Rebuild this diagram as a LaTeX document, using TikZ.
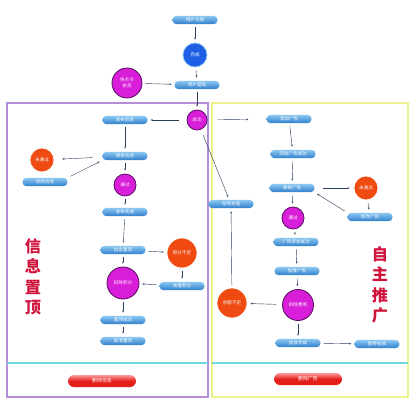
\documentclass[tikz,border=0pt]{standalone}
\usepackage{fontspec}
\newfontfamily\cjk{Noto Sans CJK SC}
\usetikzlibrary{arrows.meta}
\definecolor{boxtop}{HTML}{8CC8F2}
\definecolor{boxbot}{HTML}{2F7FCC}
\definecolor{linkcol}{HTML}{2C3E5C}
\definecolor{okfill}{HTML}{D81ED8}
\definecolor{okdraw}{HTML}{5A0F66}
\definecolor{failfill}{HTML}{EE4A12}
\definecolor{donefill}{HTML}{1E5FE6}
\definecolor{delfill}{HTML}{E41E1A}
\definecolor{framel}{HTML}{B48ED6}
\definecolor{framer}{HTML}{EEF08C}
\definecolor{cutline}{HTML}{70D8E2}
\definecolor{titlecol}{HTML}{D0143C}
\tikzset{
  infobox/.style={rounded corners=0.2cm, top color=boxtop, bottom color=boxbot, text=white,
    font=\cjk\fontsize{6.5}{7}\selectfont, minimum width=2.25cm, minimum height=0.42cm, inner sep=0pt},
  okcircle/.style={circle, draw=okdraw, line width=1.2pt, fill=okfill, text=white,
    font=\cjk\fontsize{6.5}{7}\selectfont, minimum size=1.1cm, inner sep=0pt},
  failcircle/.style={circle, draw=white, line width=1pt, fill=failfill, text=white,
    font=\cjk\fontsize{6.5}{7}\selectfont, minimum size=1.2cm, inner sep=0pt},
  donecircle/.style={circle, draw=boxtop, line width=1pt, fill=donefill, text=white,
    font=\cjk\fontsize{6.5}{7}\selectfont, minimum size=1.2cm, inner sep=0pt},
  delbutton/.style={rounded corners=0.3cm, top color=red!40, bottom color=delfill, middle color=delfill,
    text=white, font=\cjk\fontsize{7}{8}\selectfont, minimum width=3.4cm, minimum height=0.6cm, inner sep=0pt},
  bigtitle/.style={text=titlecol, font=\cjk\bfseries\fontsize{23}{29}\selectfont, align=center},
  link/.style={draw=linkcol, line width=0.6pt, -{Stealth[length=3pt,width=2.5pt]},
    shorten >=0.15cm, shorten <=0.15cm}
}
\begin{document}
\begin{tikzpicture}[x=0.05cm, y=-0.05cm]
    \useasboundingbox[fill=white] (0,0) rectangle (418,400);
    % frames
    \draw[framel, line width=1.8pt] (7,103) rectangle (208,397);
    \draw[framer, line width=1.8pt] (212,103) rectangle (408,397);
    \draw[cutline, line width=1.5pt] (7,363) -- (208,363);
    \draw[cutline, line width=1.5pt] (212,363) -- (408,363);
    % login part
    \node[infobox]                    (reg)      at (195, 20)  {用户注册};
    \node[donecircle]                 (done)     at (195, 55)  {完成};
    \node[infobox]                    (login)    at (197, 85)  {用户登陆};
    \node[okcircle, minimum size=1.5cm, align=center] (member) at (127, 83) {快点卡\\[1pt]会员};
    \node[okcircle, minimum size=1cm] (succ)     at (197,120)  {成功};
    % info part
    \node[infobox]                    (post)     at (125,120)  {发布信息};
    \node[infobox]                    (review)   at (125,156)  {审核信息};
    \node[failcircle]                 (fail)     at ( 42,160)  {未通过};
    \node[infobox]                    (modinfo)  at ( 45,182)  {修改信息};
    \node[okcircle]                   (pass)     at (125,185)  {通过};
    \node[infobox]                    (posted)   at (125,212)  {发布完成};
    \node[infobox]                    (top)      at (123,250)  {信息置顶};
    \node[failcircle, minimum size=1.5cm] (lowpts) at (182,253) {积分不足};
    \node[infobox]                    (recharge) at (182,286)  {充值积分};
    \node[okcircle, minimum size=1.6cm] (takepts) at (123,283) {扣除积分};
    \node[infobox]                    (topok)    at (123,320)  {置顶成功};
    \node[infobox]                    (untop)    at (123,341)  {取消置顶};
    \node[delbutton]                  (delinfo)  at (102,381)  {删除信息};
    \node[bigtitle]                   (infottl)  at ( 33,277)  {信\\息\\置\\顶};
    % ad part
    \node[infobox]                    (addad)    at (289,119)  {添加广告};
    \node[infobox]                    (addok)    at (293,154)  {添加广告成功};
    \node[infobox]                    (reviewad) at (292,188)  {审核广告};
    \node[failcircle]                 (failad)   at (366,188)  {未通过};
    \node[infobox]                    (modad)    at (370,217)  {修改广告};
    \node[okcircle]                   (passad)   at (293,218)  {通过};
    \node[infobox]                    (adok)     at (296,242)  {广告添加成功};
    \node[infobox]                    (launch)   at (297,271)  {投放广告};
    \node[okcircle, minimum size=1.55cm] (fee)   at (298,305)  {扣除费用};
    \node[failcircle, minimum size=1.5cm] (nobal) at (232,303) {余额不足};
    \node[infobox]                    (charge)   at (231,204)  {在线充值};
    \node[infobox]                    (launched) at (298,343)  {投放完成};
    \node[infobox]                    (pause)    at (377,344)  {暂停投放};
    \node[delbutton]                  (delad)    at (308,379)  {删除广告};
    \node[bigtitle]                   (adttl)    at (380,285)  {自\\主\\推\\广};
    % links
    \draw[link] (reg) -- (done);
    \draw[link] (done) -- (login);
    \draw[link] (member) -- (login);
    \draw[link] (login) -- (succ);
    \draw[link, shorten <=0.4cm] (succ) -- (post);
    \draw[link, shorten <=0.5cm, shorten >=0.9cm] (succ) -- (addad);
    \draw[link, shorten <=0.3cm] (succ) -- (charge);
    \draw[link] (post) -- (review);
    \draw[link, shorten <=0.5cm, shorten >=0.4cm] (review) -- (fail);
    \draw[link] (modinfo.north east) -- (review.south west);
    \draw[link] (review) -- (pass);
    \draw[link] (pass) -- (posted);
    \draw[link] (posted) -- (top);
    \draw[link] (top) -- (lowpts);
    \draw[link] (lowpts) -- (recharge);
    \draw[link] (recharge) -- (takepts);
    \draw[link] (top) -- (takepts);
    \draw[link] (takepts) -- (topok);
    \draw[link] (topok) -- (untop);
    \draw[link] (addad) -- (addok);
    \draw[link] (addok) -- (reviewad);
    \draw[link, shorten <=0.4cm, shorten >=0.2cm] (reviewad) -- (failad);
    \draw[link] (failad) -- (modad);
    \draw[link] (modad.north west) -- (reviewad.south east);
    \draw[link] (reviewad) -- (passad);
    \draw[link] (passad) -- (adok);
    \draw[link] (adok) -- (launch);
    \draw[link] (launch) -- (fee);
    \draw[link, shorten <=0.3cm] (fee) -- (nobal);
    \draw[link] (nobal) -- (charge);
    \draw[link] (fee) -- (launched);
    \draw[link] (launched) -- (pause);
\end{tikzpicture}
\end{document}
